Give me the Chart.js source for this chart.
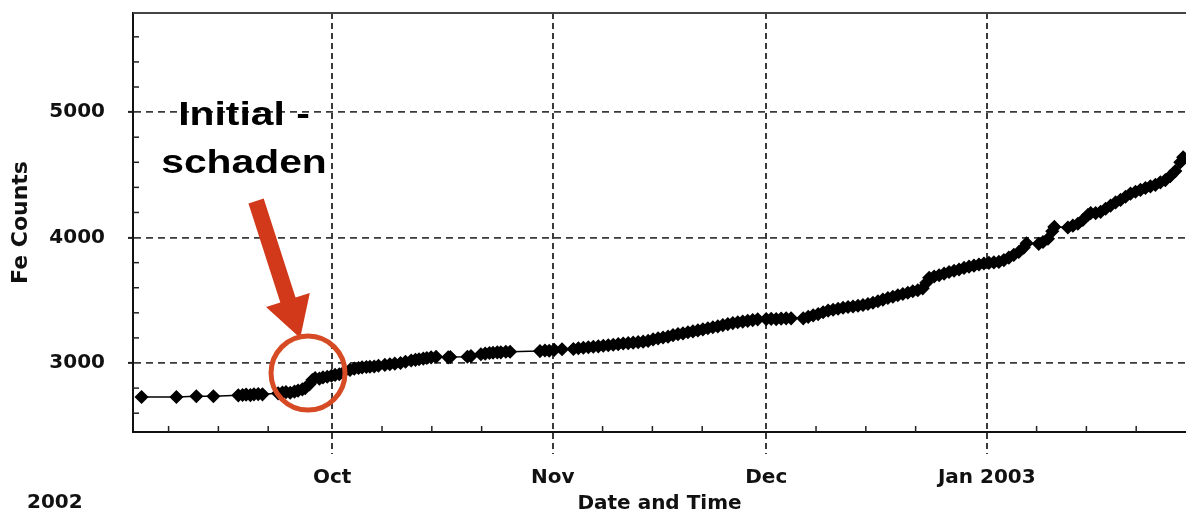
<!DOCTYPE html>
<html>
<head>
<meta charset="utf-8">
<script src="https://cdn.jsdelivr.net/npm/chart.js@4.4.1/dist/chart.umd.min.js"></script>
<style>
  html, body { margin: 0; padding: 0; background: #fff; }
  #wrap { width: 1186px; height: 516px; }
</style>
</head>
<body>
<div id="wrap"><canvas id="feChart"></canvas></div>
<script>
// x = days counted from 1 Oct 2002
const days = [
  -26.8, -21.9, -19.1, -16.7, -13.2, -12.6, -12.1, -11.5, -11.0, -10.4, -9.8,
  -7.6, -7.0, -6.5, -5.9, -5.3, -4.8, -4.2, -3.8, -3.2, -2.8, -2.4, -1.8, -1.3, -0.7, -0.1,
  0.4, 1.0, 1.5, 2.5, 3.1, 3.7, 4.2, 4.8, 5.3, 5.9, 6.5, 7.4, 8.1, 8.8, 9.6, 10.3,
  11.1, 11.7, 12.2, 12.8, 13.3, 13.9, 14.6, 16.3, 16.6, 19.0, 19.5,
  20.9, 21.5, 22.1, 22.6, 23.2, 23.7, 24.4, 25.0, 29.2, 29.9, 30.5, 31.2, 32.3,
  33.9, 34.6, 35.3, 36.0, 36.7, 37.4, 38.1, 38.8, 39.5, 40.2,
  40.9, 41.6, 42.3, 43.0, 43.7, 44.4, 45.1, 45.8, 46.5, 47.2,
  47.9, 48.6, 49.3, 50.0, 50.7, 51.4, 52.1, 52.8, 53.5, 54.2,
  54.9, 55.6, 56.3, 57.0, 57.7, 58.4, 59.1, 59.8,
  61.0, 61.7, 62.4, 63.1, 63.8, 64.5,
  66.2, 66.9, 67.6, 68.3, 69.0, 69.7, 70.4, 71.1, 71.8, 72.5,
  73.2, 73.9, 74.6, 75.3, 76.0, 76.7, 77.4, 78.1, 78.8, 79.5, 80.2, 80.9,
  81.6, 82.3, 83.0, 83.5, 83.9, 84.6, 85.3, 86.0, 86.7, 87.4,
  88.1, 88.8, 89.5, 90.2, 90.9, 91.6, 92.3, 93.0, 93.7, 94.4,
  95.1, 95.8, 96.5, 97.2, 97.6,
  99.3, 99.9, 100.6, 101.2, 101.5,
  103.4, 104.1, 104.8, 105.5, 106.2, 106.6, 107.3, 108.0, 108.7, 109.4,
  110.1, 110.8, 111.5, 112.2, 112.9, 113.6, 114.3, 115.0, 115.7, 116.4,
  117.1, 117.8, 118.5, 119.2, 119.6
];
const feCounts = [
  2729, 2729, 2735, 2735, 2742, 2745, 2748, 2744, 2750, 2752, 2750,
  2758, 2765, 2768, 2763, 2772, 2780, 2790, 2800, 2830, 2865, 2880, 2875, 2885, 2890, 2898,
  2905, 2910, 2920, 2945, 2955, 2960, 2965, 2968, 2970, 2972, 2978, 2985, 2990, 2995, 3000, 3010,
  3020, 3025, 3030, 3035, 3040, 3045, 3050, 3045, 3048, 3050, 3055,
  3070, 3075, 3080, 3082, 3085, 3085, 3090, 3090, 3095, 3100, 3098, 3105, 3110,
  3112, 3118, 3122, 3126, 3130, 3133, 3138, 3142, 3146, 3150,
  3155, 3158, 3162, 3166, 3170, 3176, 3188, 3196, 3203, 3210,
  3222, 3230, 3236, 3245, 3252, 3260, 3268, 3277, 3285, 3292,
  3302, 3310, 3318, 3325, 3330, 3336, 3342, 3348,
  3350, 3352, 3350, 3354, 3356, 3356,
  3356, 3368, 3380, 3390, 3405, 3418, 3425, 3432, 3440, 3446,
  3450, 3456, 3462, 3470, 3480, 3492, 3505, 3518, 3528, 3540, 3550, 3560,
  3572, 3580, 3595, 3640, 3680, 3690, 3700, 3712, 3725, 3735,
  3745, 3758, 3768, 3776, 3785, 3793, 3798, 3802, 3806, 3820,
  3840, 3862, 3885, 3920, 3955,
  3950, 3965, 3990, 4050, 4085,
  4080, 4095, 4110, 4140, 4180, 4195, 4195, 4205, 4230, 4255,
  4280, 4300, 4325, 4350, 4365, 4380, 4395, 4408, 4420, 4440,
  4458, 4490, 4530, 4600, 4640
];

const monthDays = [0, 31, 61, 92];
const monthLabels = ['Oct', 'Nov', 'Dec', 'Jan 2003'];
const weekDays = [-23, -16, -9, 7, 14, 21, 38, 45, 52, 68, 75, 82, 99, 106, 113];
const yMajor = [3000, 4000, 5000];
const yMinor = [2600, 2800, 3200, 3400, 3600, 3800, 4200, 4400, 4600, 4800, 5200, 5400, 5600];

const gridCol = '#3a3a3a';
const textCol = '#111';
const red = '#d2391a';

// annotation anchors in data units (day, counts)
const note = { x: -12.4, line1: 4897, line2: 4514 };
const arrow = { from: [-10.7, 4291], to: [-4.5, 3199] };
const ring = { x: -3.4, y: 2920, r: 37 };

const xTicks = monthDays.map(v => ({ value: v, major: true }))
  .concat(weekDays.map(v => ({ value: v, major: false })))
  .sort((a, b) => a.value - b.value);
const yTicks = yMajor.map(v => ({ value: v, major: true }))
  .concat(yMinor.map(v => ({ value: v, major: false })))
  .sort((a, b) => a.value - b.value);

const majorOnly = (col) => (c) => (c.tick && c.tick.major ? col : 'rgba(0,0,0,0)');

const extras = {
  id: 'extras',
  afterDraw(chart) {
    const ctx = chart.ctx, a = chart.chartArea;
    const xs = chart.scales.x, ys = chart.scales.y;
    const line = (x1, y1, x2, y2) => { ctx.beginPath(); ctx.moveTo(x1, y1); ctx.lineTo(x2, y2); ctx.stroke(); };
    ctx.save();

    // small inner ticks
    ctx.strokeStyle = '#222';
    ctx.lineWidth = 1.5;
    xs.ticks.forEach(t => {
      if (!t.major) { const px = xs.getPixelForValue(t.value); line(px, a.bottom, px, a.bottom - 6); }
    });
    ys.ticks.forEach(t => {
      if (!t.major) { const py = ys.getPixelForValue(t.value); line(a.left, py, a.left + 6, py); }
    });

    // top frame
    ctx.strokeStyle = '#444';
    ctx.lineWidth = 2;
    line(a.left, a.top, a.right, a.top);

    // year under the axis
    ctx.fillStyle = textCol;
    ctx.font = 'bold 20px "DejaVu Sans"';
    ctx.textAlign = 'left';
    ctx.textBaseline = 'middle';
    ctx.fillText('2002', 27, 503);

    // label text
    ctx.save();
    ctx.translate(xs.getPixelForValue(note.x), 0);
    ctx.scale(1.2, 1);
    ctx.font = 'bold 34px "Liberation Sans"';
    ctx.textAlign = 'center';
    ctx.textBaseline = 'alphabetic';
    ctx.fillStyle = '#000';
    ctx.fillText('Initial -', 0, ys.getPixelForValue(note.line1));
    ctx.fillText('schaden', 0, ys.getPixelForValue(note.line2));
    ctx.restore();

    // arrow
    const x0 = xs.getPixelForValue(arrow.from[0]), y0 = ys.getPixelForValue(arrow.from[1]);
    const x1 = xs.getPixelForValue(arrow.to[0]), y1 = ys.getPixelForValue(arrow.to[1]);
    const len = Math.hypot(x1 - x0, y1 - y0);
    ctx.save();
    ctx.translate(x0, y0);
    ctx.rotate(Math.atan2(y1 - y0, x1 - x0));
    ctx.fillStyle = red;
    ctx.beginPath();
    ctx.moveTo(0, -8);
    ctx.lineTo(len - 40, -8);
    ctx.lineTo(len - 40, -23);
    ctx.lineTo(len, 0);
    ctx.lineTo(len - 40, 23);
    ctx.lineTo(len - 40, 8);
    ctx.lineTo(0, 8);
    ctx.closePath();
    ctx.fill();
    ctx.restore();

    // circle round the step
    ctx.strokeStyle = '#d64a24';
    ctx.lineWidth = 5;
    ctx.beginPath();
    ctx.arc(xs.getPixelForValue(ring.x), ys.getPixelForValue(ring.y), ring.r, 0, Math.PI * 2);
    ctx.stroke();

    ctx.restore();
  }
};

new Chart(document.getElementById('feChart'), {
  type: 'line',
  data: {
    datasets: [{
      data: days.map((d, i) => ({ x: d, y: feCounts[i] })),
      borderColor: '#000',
      borderWidth: 1.5,
      pointStyle: 'rectRot',
      pointRadius: 6,
      pointBackgroundColor: '#000',
      pointBorderColor: '#000',
      pointBorderWidth: 1.5,
      tension: 0
    }]
  },
  options: {
    responsive: true,
    maintainAspectRatio: false,
    animation: false,
    events: [],
    layout: { autoPadding: false, padding: { top: 13, right: 0, bottom: 0, left: 0 } },
    plugins: { legend: { display: false }, tooltip: { enabled: false } },
    scales: {
      x: {
        type: 'linear',
        min: -28,
        max: 120,
        afterBuildTicks: s => { s.ticks = xTicks.map(t => ({ ...t })); },
        afterFit: s => { s.height = 84; s.paddingLeft = 0; s.paddingRight = 0; },
        ticks: {
          autoSkip: false,
          maxRotation: 0,
          padding: 12,
          color: textCol,
          font: { family: 'DejaVu Sans', size: 20, weight: 'bold' },
          callback: v => { const i = monthDays.indexOf(v); return i < 0 ? '' : monthLabels[i]; }
        },
        grid: {
          color: majorOnly(gridCol),
          lineWidth: 2,
          tickLength: 22,
          tickWidth: 2,
          tickColor: majorOnly(gridCol),
          tickBorderDash: [6, 4]
        },
        border: { color: '#111', width: 2, dash: [6, 4] },
        title: {
          display: true,
          text: 'Date and Time',
          color: textCol,
          font: { family: 'DejaVu Sans', size: 20, weight: 'bold' },
          padding: { top: 0, bottom: 0 }
        }
      },
      y: {
        min: 2450,
        max: 5790,
        afterBuildTicks: s => { s.ticks = yTicks.map(t => ({ ...t })); },
        afterFit: s => { s.width = 133; s.paddingTop = 0; s.paddingBottom = 0; },
        ticks: {
          autoSkip: false,
          padding: 23,
          color: textCol,
          font: { family: 'DejaVu Sans', size: 20, weight: 'bold' },
          callback: v => (yMajor.includes(v) ? String(v) : '')
        },
        grid: {
          color: majorOnly(gridCol),
          lineWidth: 1.8,
          tickLength: 5,
          tickWidth: 2,
          tickColor: majorOnly('#222')
        },
        border: { color: '#111', width: 2, dash: [7, 5] },
        title: {
          display: true,
          text: 'Fe Counts',
          color: textCol,
          font: { family: 'DejaVu Sans', size: 22, weight: 'bold' },
          padding: { top: 8, bottom: 0 }
        }
      }
    }
  },
  plugins: [extras]
});
</script>
</body>
</html>
